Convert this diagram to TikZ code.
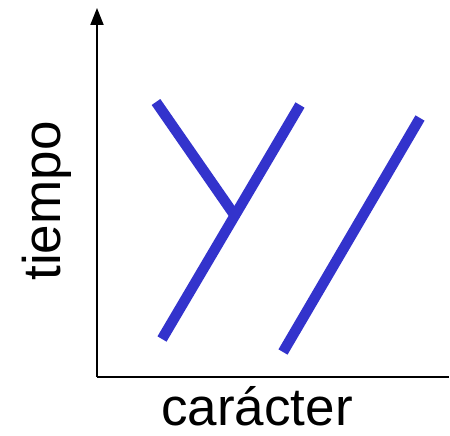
\documentclass[tikz,border=0pt]{standalone}
\usepackage{fontspec}
\setmainfont{Liberation Sans}
\usetikzlibrary{arrows.meta}
\definecolor{lineblue}{RGB}{51,51,204}
\tikzset{
  axis/.style={line width=2pt, draw=black},
  branch/.style={line width=10.5pt, draw=lineblue, line cap=butt},
  lbl/.style={font=\fontsize{53}{60}\selectfont, inner sep=0pt}
}
\begin{document}
\begin{tikzpicture}[x=1pt,y=-1pt]
\useasboundingbox (0,0) rectangle (450,436);
% axes
\coordinate (O) at (97,377);
\coordinate (ytop) at (97,8);
\coordinate (xend) at (449,377);
\draw[axis, -{Triangle[length=17pt,width=13pt]}] (O) -- (ytop);
\draw[axis] (O) -- (xend);
% branches
\coordinate (a1) at (156,102);
\coordinate (j) at (233,213);
\coordinate (b1) at (300,105);
\coordinate (b2) at (162,339);
\coordinate (c1) at (420,118);
\coordinate (c2) at (283,352);
\draw[branch] (a1) -- (j);
\draw[branch] (b1) -- (b2);
\draw[branch] (c1) -- (c2);
% labels
\node[lbl, anchor=base] (xl) at (257,425) {carácter};
\node[lbl, anchor=base, rotate=90] (yl) at (60,201) {tiempo};
\end{tikzpicture}
\end{document}
